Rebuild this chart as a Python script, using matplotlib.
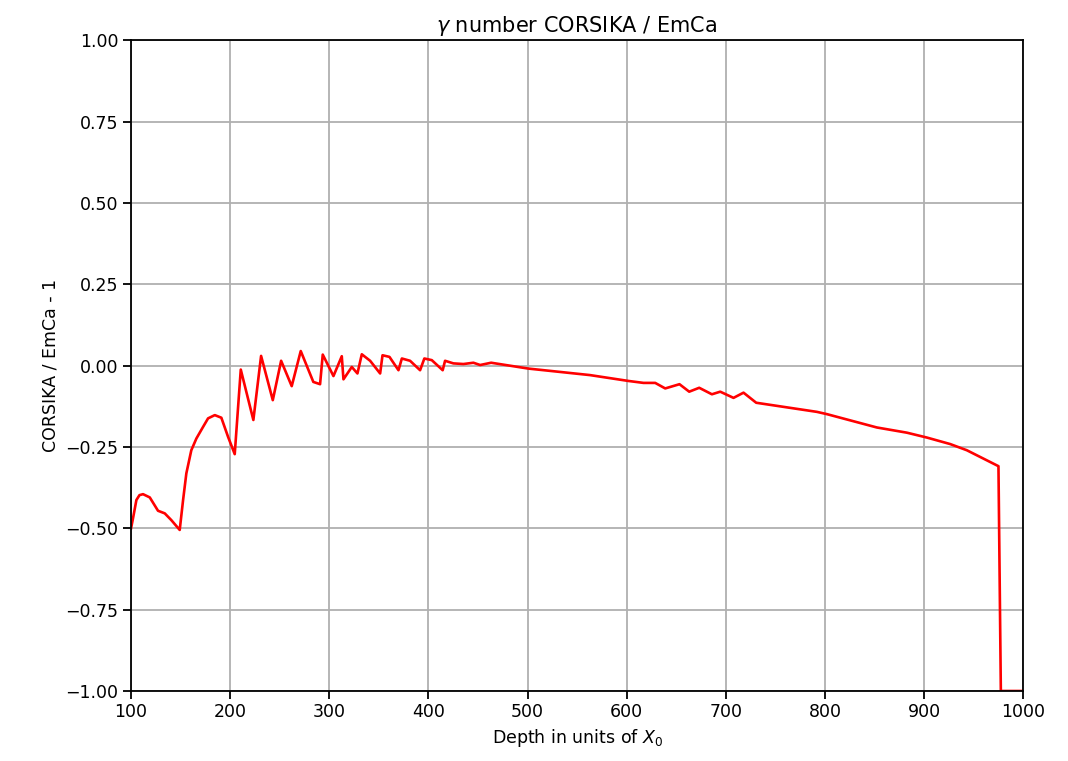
import matplotlib
matplotlib.use("Agg")
import matplotlib.pyplot as plt

# depth (X0) and relative difference CORSIKA/EmCa - 1
depth = [100.0, 102.0, 105.4, 108.5, 112.1, 118.9, 127.2, 134.0, 140.7, 149.1,
         152.5, 155.8, 160.8, 165.9, 172.7, 177.7, 184.5, 191.1, 197.9, 204.6,
         210.7, 223.4, 231.2, 243.0, 251.4, 262.1, 271.2, 283.9, 290.7,
         293.4, 304.2, 312.6, 314.3, 322.7, 328.4, 332.8, 341.2, 351.3, 353.7,
         360.7, 369.8, 373.2, 381.5, 391.6, 395.9, 403.4, 414.4, 416.8, 425.2,
         435.3, 445.4, 452.2, 463.3, 500.9, 563.0, 601.8, 617.0, 628.8, 638.9,
         653.3, 663.1, 673.2, 686.0, 694.4, 707.8, 717.9, 730.7, 791.9, 802.0,
         852.4, 882.7, 902.9, 926.4, 943.2, 975.1, 977.5, 1000.0]
ratio = [-0.50, -0.469, -0.413, -0.398, -0.395, -0.405, -0.446, -0.454, -0.475, -0.505,
         -0.413, -0.331, -0.260, -0.224, -0.188, -0.162, -0.152, -0.160, -0.219, -0.272,
         -0.012, -0.167, 0.030, -0.106, 0.015, -0.063, 0.045, -0.050, -0.057,
         0.034, -0.032, 0.029, -0.042, -0.004, -0.024, 0.035, 0.015, -0.024, 0.032,
         0.027, -0.014, 0.022, 0.015, -0.014, 0.022, 0.017, -0.014, 0.015, 0.007,
         0.005, 0.009, 0.002, 0.009, -0.009, -0.029, -0.047, -0.053, -0.053, -0.070,
         -0.057, -0.080, -0.068, -0.088, -0.080, -0.099, -0.083, -0.114, -0.142, -0.149,
         -0.190, -0.206, -0.221, -0.241, -0.260, -0.309, -1.0, -1.0]

plt.rcParams["font.size"] = 12.5
plt.rcParams["axes.linewidth"] = 1.3
plt.rcParams["xtick.major.size"] = 5.5
plt.rcParams["ytick.major.size"] = 5.5
plt.rcParams["xtick.major.width"] = 1.3
plt.rcParams["ytick.major.width"] = 1.3

fig = plt.figure(figsize=(10.68, 7.61), dpi=100)
ax = fig.add_axes([0.1227, 0.092, 0.8353, 0.855])
ax.plot(depth, ratio, color="red", lw=1.9)
ax.set_xlim(100, 1000)
ax.set_ylim(-1, 1)
ax.set_yticks([-1, -0.75, -0.5, -0.25, 0, 0.25, 0.5, 0.75, 1])
ax.grid(True, color="#b0b0b0", lw=1.3)
ax.set_title(r"$\gamma$ number CORSIKA / EmCa")
ax.set_xlabel(r"Depth in units of $X_0$")
ax.set_ylabel("CORSIKA / EmCa - 1")
fig.savefig("out.png", dpi=100)
